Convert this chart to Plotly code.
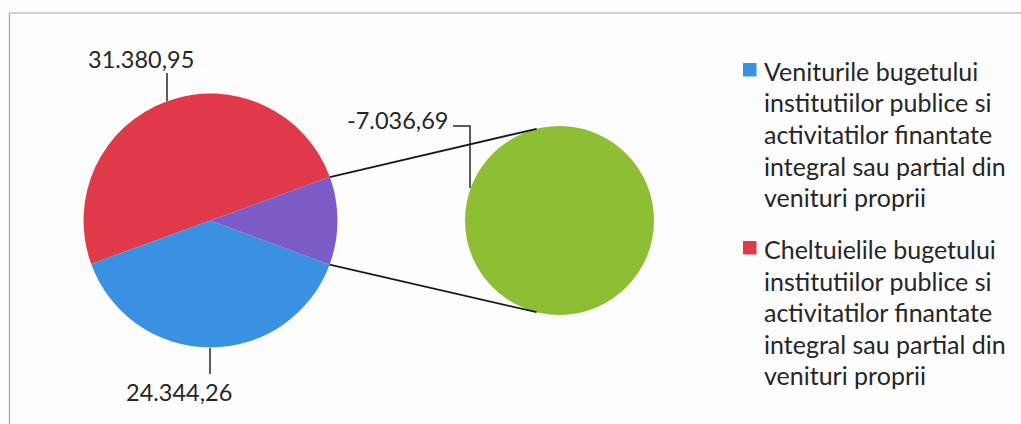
import math
import plotly.graph_objects as go

# ---------------- data ----------------
categories = [
    "Cheltuielile bugetului institutiilor publice si activitatilor finantate integral sau partial din venituri proprii",
    "Veniturile bugetului institutiilor publice si activitatilor finantate integral sau partial din venituri proprii",
    "Excedent / deficit",
]
values = [31380.95, 24344.26, -7036.69]
colors = ["#E03A4A", "#3A91E2", "#7B5CC6"]
second_color = "#8DBE34"

legend_entries = [
    ["Veniturile bugetului", "institutiilor publice si", "activitatilor finantate",
     "integral sau partial din", "venituri proprii"],
    ["Cheltuielile bugetului", "institutiilor publice si", "activitatilor finantate",
     "integral sau partial din", "venituri proprii"],
]
legend_colors = ["#3A91E2", "#E03A4A"]

# ---------------- layout helpers ----------------
W, H = 1021, 424
FONT = "Lato"
TXT = "#262626"

def px(x):
    return x / W

def py(y):
    return 1 - y / H

def fmt(v):
    s = f"{v:,.2f}"
    return s.replace(",", "X").replace(".", ",").replace("X", ".")

# main pie geometry
cx, cy, r = 210.5, 220.5, 127
# secondary pie geometry
cx2, cy2, r2 = 559.5, 220.5, 94.5
start_math = 20  # math angle (deg) where the first slice begins, going counterclockwise
rotation = 250   # plotly rotation producing that start

abs_vals = [abs(v) for v in values]
total = sum(abs_vals)

fig = go.Figure()
fig.add_trace(go.Pie(
    labels=categories, values=abs_vals, sort=False, direction="counterclockwise",
    rotation=rotation, marker=dict(colors=colors, line=dict(width=0)),
    textinfo="none", hoverinfo="label+value", showlegend=False,
    domain=dict(x=[px(cx - r), px(cx + r)], y=[py(cy + r), py(cy - r)]),
))
fig.add_trace(go.Pie(
    labels=[categories[2]], values=[abs_vals[2]], sort=False,
    marker=dict(colors=[second_color], line=dict(width=0)),
    textinfo="none", hoverinfo="label+value", showlegend=False,
    domain=dict(x=[px(cx2 - r2), px(cx2 + r2)], y=[py(cy2 + r2), py(cy2 - r2)]),
))

shapes = []
annotations = []

# connector lines from the "other" slice to the secondary pie
start_deg = start_math + 360 * (abs_vals[0] + abs_vals[1]) / total
end_deg = start_deg + 360 * abs_vals[2] / total
for ang_main, ang_sec in [(end_deg, 104), (start_deg, -104)]:
    a = math.radians(ang_main)
    b = math.radians(ang_sec)
    x0, y0 = cx + r * math.cos(a), cy - r * math.sin(a)
    x1, y1 = cx2 + r2 * math.cos(b), cy2 - r2 * math.sin(b)
    shapes.append(dict(type="line", xref="paper", yref="paper",
                       x0=px(x0), y0=py(y0), x1=px(x1), y1=py(y1),
                       line=dict(color="#1a1a1a", width=1.8)))

# data labels with leader lines
label_specs = [
    (fmt(values[0]), 140.5, 59, [(167, 73), (167, 101)]),
    (fmt(values[2]), 397.5, 120, [(453, 126), (470, 126), (470, 188)]),
    (fmt(values[1]), 179, 392, [(210, 348), (210, 374)]),
]
for text, tx, ty, pts in label_specs:
    annotations.append(dict(text=text, x=px(tx), y=py(ty), xref="paper", yref="paper",
                            xanchor="center", yanchor="middle", showarrow=False,
                            font=dict(family=FONT, size=23.5, color=TXT)))
    path = "M " + " L ".join(f"{px(a)},{py(b)}" for a, b in pts)
    shapes.append(dict(type="path", xref="paper", yref="paper", path=path,
                       line=dict(color=TXT, width=1.5)))

# legend (manual)
entry_tops = [71, 249]
line_step = 31.5
for entry, col, y0 in zip(legend_entries, legend_colors, entry_tops):
    shapes.append(dict(type="rect", xref="paper", yref="paper",
                       x0=px(743), x1=px(756.5), y0=py(y0 - 8), y1=py(y0 + 5.5),
                       line=dict(width=0), fillcolor=col))
    for i, line in enumerate(entry):
        annotations.append(dict(text=line, x=px(762), y=py(y0 + i * line_step),
                                xref="paper", yref="paper", xanchor="left", yanchor="middle",
                                showarrow=False,
                                font=dict(family=FONT, size=25, color=TXT)))

# chart border (top & left visible)
shapes.append(dict(type="rect", xref="paper", yref="paper",
                   x0=px(9.5), x1=px(1040), y0=py(440), y1=py(13),
                   line=dict(color="#a6a6a6", width=1.2), fillcolor="rgba(0,0,0,0)"))

fig.update_layout(
    width=W, height=H, margin=dict(l=0, r=0, t=0, b=0),
    paper_bgcolor="#fdfdfd", plot_bgcolor="#fdfdfd",
    shapes=shapes, annotations=annotations, showlegend=False,
)
fig.write_html("out.html", config={"displayModeBar": False},
               post_script="document.body.style.margin='0px';document.body.style.padding='0px';")
